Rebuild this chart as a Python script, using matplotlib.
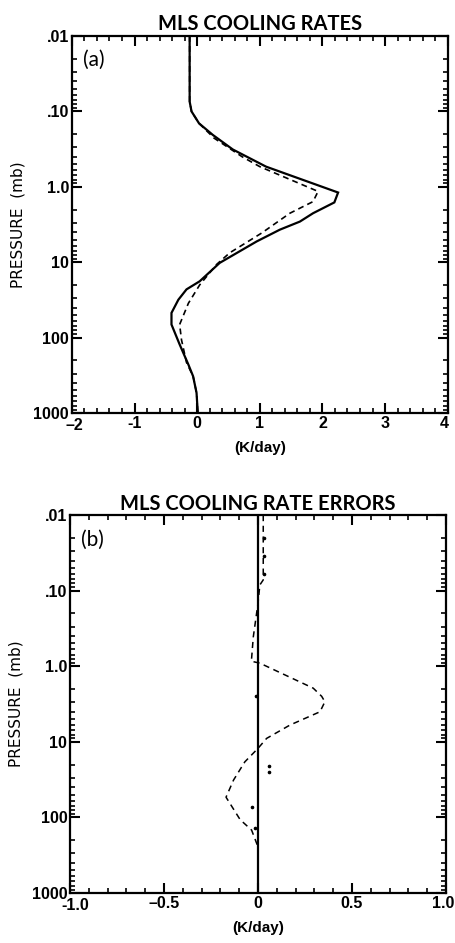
import matplotlib
matplotlib.use("Agg")
import matplotlib.pyplot as plt
from matplotlib.ticker import FixedLocator, LogLocator, NullFormatter, FixedFormatter, MultipleLocator
from matplotlib.transforms import offset_copy

# ---- Data ----
# Panel (a): MLS cooling rates (K/day) vs pressure (mb)
p_a_solid = [0.01, 0.074, 0.10, 0.144, 0.205, 0.32, 0.54, 1.19, 1.61, 2.24, 2.89, 3.7, 5.3,
             10.2, 17.9, 22.9, 31.4, 47, 67, 123, 228, 325, 540, 1000]
x_a_solid = [-0.12, -0.12, -0.09, 0.03, 0.25, 0.57, 1.10, 2.25, 2.19, 1.85, 1.64, 1.32, 0.95,
             0.36, 0.04, -0.17, -0.30, -0.41, -0.41, -0.28, -0.14, -0.065, -0.01, 0.01]
p_a_dash = [0.01, 0.074, 0.10, 0.144, 0.226, 0.40, 0.54, 1.15, 1.57, 2.24, 4.1, 7.5, 10.7, 20,
            35, 67, 107, 214, 325, 540, 1000]
x_a_dash = [-0.12, -0.12, -0.09, 0.03, 0.27, 0.72, 1.0, 1.93, 1.85, 1.48, 1.03, 0.52, 0.31, 0.04,
            -0.14, -0.28, -0.25, -0.17, -0.065, -0.01, 0.01]

# Panel (b): MLS cooling rate errors (K/day)
p_b_solid = [0.01, 1000]
x_b_solid = [0.0, 0.0]
p_b_dash = [0.01, 0.072, 0.084, 0.147, 0.41, 0.79, 0.86, 0.91, 1.95, 2.5, 2.95, 4.0, 6.0, 9.0,
            12.2, 18.4, 32, 54, 107, 147, 245]
x_b_dash = [0.028, 0.028, 0.01, 0.0, -0.025, -0.034, -0.034, 0.01, 0.294, 0.339, 0.356, 0.33,
            0.17, 0.046, 0.0, -0.07, -0.13, -0.17, -0.095, -0.034, 0.0]
p_b_dot = [0.02, 0.035, 0.06, 2.5, 21, 25, 72, 140]
x_b_dot = [0.03, 0.03, 0.03, -0.012, 0.058, 0.058, -0.034, -0.016]

titles = ["MLS COOLING RATES", "MLS COOLING RATE ERRORS"]
panel_labels = ["(a)", "(b)"]
ytick_vals = [0.01, 0.1, 1, 10, 100, 1000]
ytick_labels = [".01", ".10", "1.0", "10", "100", "1000"]
xticks_a = [-2, -1, 0, 1, 2, 3, 4]
xtick_labels_a = ["\u20132", "-1", "0", "1", "2", "3", "4"]
xticks_b = [-1.0, -0.5, 0, 0.5, 1.0]
xtick_labels_b = ["-1.0", "\u20130.5", "0", "0.5", "1.0"]

TICKFAM = ["Liberation Sans", "DejaVu Sans"]
TITLEFONT = dict(family=["Lato", "DejaVu Sans"], weight="bold", size=14.5)

fig = plt.figure(figsize=(4.55, 9.43), dpi=100)
ax_a = fig.add_axes([0.158, 0.562, 0.826, 0.3998])
ax_b = fig.add_axes([0.154, 0.053, 0.826, 0.4008])

def style(ax, xlim, xticks, xlabels, minor, title, lab):
    ax.set_yscale("log")
    ax.set_ylim(1000, 0.01)
    ax.set_xlim(*xlim)
    ax.yaxis.set_major_locator(FixedLocator(ytick_vals))
    ax.yaxis.set_major_formatter(FixedFormatter(ytick_labels))
    ax.yaxis.set_minor_locator(LogLocator(base=10, subs=range(2, 10), numticks=20))
    ax.yaxis.set_minor_formatter(NullFormatter())
    ax.set_xticks(xticks)
    ax.set_xticklabels(xlabels)
    ax.xaxis.set_minor_locator(MultipleLocator(minor))
    ax.tick_params(which="major", direction="in", length=7, width=1.5,
                   top=True, right=True, pad=2)
    ax.tick_params(which="minor", direction="in", length=3.5, width=1.2,
                   top=True, right=True)
    for t in ax.get_xticklabels() + ax.get_yticklabels():
        t.set_fontfamily(TICKFAM)
        t.set_fontweight("bold")
        t.set_fontsize(11.5)
    for s in ax.spines.values():
        s.set_linewidth(1.6)
    ax.set_title(title, pad=4, **TITLEFONT)
    ax.set_ylabel("PRESSURE  (mb)", family=["Liberation Sans Narrow", "DejaVu Sans"],
                  fontsize=11, labelpad=6)
    ax.set_xlabel("(K/day)", family=TICKFAM, weight="bold", fontsize=11, labelpad=6)
    ax.text(0.03, 0.962, lab, transform=ax.transAxes, ha="left", va="top",
            family=["Lato", "DejaVu Sans"], fontsize=15)

ax_a.plot(x_a_solid, p_a_solid, color="black", lw=1.6, solid_joinstyle="miter")
ax_a.plot(x_a_dash, p_a_dash, color="black", lw=1.2, linestyle=(0, (3.5, 2.5)))
style(ax_a, (-2, 4), xticks_a, xtick_labels_a, 0.2, titles[0], panel_labels[0])

ax_b.plot(x_b_solid, p_b_solid, color="black", lw=1.6)
ax_b.plot(x_b_dash, p_b_dash, color="black", lw=1.1, linestyle=(0, (4, 3)))
ax_b.plot(x_b_dot, p_b_dot, color="black", lw=0, marker="o", markersize=1.6)
style(ax_b, (-1, 1), xticks_b, xtick_labels_b, 0.1, titles[1], panel_labels[1])

# keep the rightmost tick labels inside the canvas, and the first clear of "1000"
for ax, dx0 in ((ax_a, 2), (ax_b, 5)):
    lab = ax.get_xticklabels()[-1]
    lab.set_transform(offset_copy(lab.get_transform(), fig=fig, x=-3, y=0, units="dots"))
    lab0 = ax.get_xticklabels()[0]
    lab0.set_transform(offset_copy(lab0.get_transform(), fig=fig, x=dx0, y=-2, units="dots"))

fig.savefig("out.png", dpi=100)
